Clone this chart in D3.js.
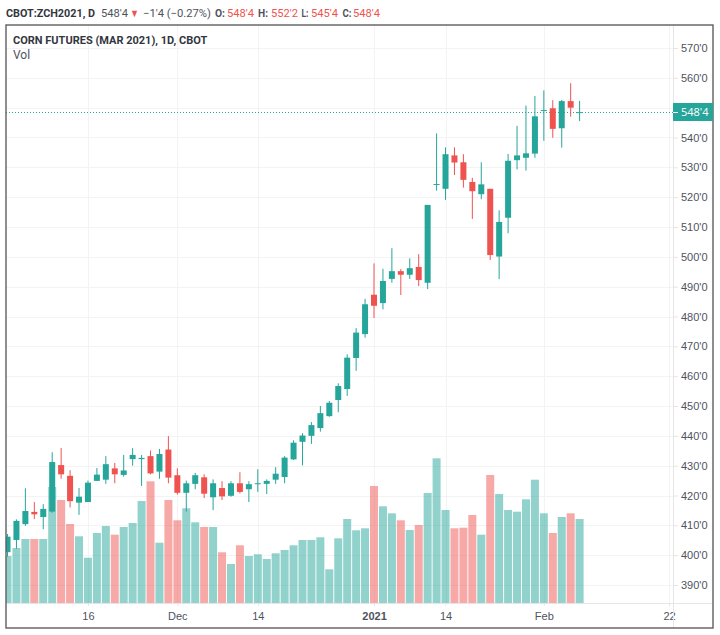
<!DOCTYPE html>
<html>
<head>
<meta charset="utf-8">
<script src="https://cdn.jsdelivr.net/npm/d3@7"></script>
<style>
  html, body { margin: 0; padding: 0; background: #fff; }
  svg { display: block; font-family: "Open Sans", "Noto Sans", sans-serif; }
  .tick text { fill: #50535e; font-size: 11px; }
  .label { font-family: Roboto, "Open Sans", sans-serif; }
</style>
</head>
<body>
<svg id="chart" width="720" height="635"></svg>
<script>
// trading days, plus the empty ones to the right of the last bar
const dates = [
  "2020-11-03","2020-11-04","2020-11-05","2020-11-06","2020-11-09","2020-11-10","2020-11-11","2020-11-12","2020-11-13",
  "2020-11-16","2020-11-17","2020-11-18","2020-11-19","2020-11-20","2020-11-23","2020-11-24","2020-11-25","2020-11-27","2020-11-30",
  "2020-12-01","2020-12-02","2020-12-03","2020-12-04","2020-12-07","2020-12-08","2020-12-09","2020-12-10","2020-12-11",
  "2020-12-14","2020-12-15","2020-12-16","2020-12-17","2020-12-18","2020-12-21","2020-12-22","2020-12-23","2020-12-24",
  "2020-12-28","2020-12-29","2020-12-30","2020-12-31",
  "2021-01-04","2021-01-05","2021-01-06","2021-01-07","2021-01-08","2021-01-11","2021-01-12","2021-01-13","2021-01-14","2021-01-15",
  "2021-01-19","2021-01-20","2021-01-21","2021-01-22","2021-01-25","2021-01-26","2021-01-27","2021-01-28","2021-01-29",
  "2021-02-01","2021-02-02","2021-02-03","2021-02-04","2021-02-05"
];
const futureDates = ["2021-02-08","2021-02-09","2021-02-10","2021-02-11","2021-02-12","2021-02-16","2021-02-17","2021-02-18","2021-02-19","2021-02-22"];

const opens = [
  401.0,405.1,410.4,414.5,412.8,414.6,430.2,426.6,417.6,417.8,424.9,425.3,429.1,426.9,432.2,432.2,433.2,428.0,435.4,426.8,
  420.9,423.9,426.1,419.4,422.5,419.9,424.1,422.1,423.8,423.9,425.3,426.2,432.1,438.0,440.0,442.6,446.6,452.0,455.7,466.1,
  474.1,487.3,484.5,492.6,495.2,494.0,496.6,491.3,524.1,522.8,534.0,531.7,525.1,521.0,522.8,500.1,513.1,532.4,533.2,534.6,
  549.0,549.8,543.1,552.2,548.5
];
const highs = [
  407.1,412.0,422.4,417.8,417.1,434.5,435.9,428.5,422.5,425.0,429.2,433.2,430.9,433.6,435.9,433.6,435.1,435.6,439.9,429.1,
  425.0,427.6,427.1,425.4,424.8,424.8,427.8,424.8,428.8,425.4,429.5,433.2,438.5,440.9,444.6,450.0,451.7,457.6,467.3,476.1,
  485.9,497.8,496.0,502.9,495.9,499.5,500.9,517.4,541.4,536.7,536.7,534.4,526.5,531.7,522.8,515.6,534.5,543.9,550.7,553.9,
  555.8,552.5,552.6,558.2,552.25
];
const lows = [
  399.5,402.1,409.8,412.1,408.7,414.2,425.6,416.0,413.5,417.8,424.9,423.9,424.1,426.3,430.0,423.2,427.1,425.6,424.1,420.3,
  414.6,422.1,419.1,415.1,418.5,419.6,420.7,417.8,421.2,420.5,423.9,424.1,431.9,430.1,437.3,441.4,446.4,447.9,453.4,461.8,
  472.9,479.5,482.4,491.3,487.2,492.6,490.2,489.2,522.2,519.1,527.4,523.2,512.7,519.3,498.9,492.5,507.9,529.3,528.9,533.2,
  538.9,539.9,536.6,547.0,545.5
];
const closes = [
  406.2,411.5,414.8,413.7,415.5,431.2,427.1,418.1,419.6,424.3,427.0,430.5,427.1,428.4,433.6,432.6,427.4,433.9,426.0,420.9,
  424.1,426.8,420.6,424.1,419.7,424.1,421.2,423.8,424.1,424.9,427.3,432.7,437.7,440.1,443.6,447.6,451.1,456.7,466.2,474.6,
  484.1,483.6,491.9,495.2,494.0,496.2,492.2,517.4,524.4,534.4,531.6,525.8,522.0,524.3,500.6,511.7,532.2,534.0,534.7,547.1,
  549.2,542.9,552.2,550.0,548.5
];
const volumes = [
  47,55,64,64,64,116,103,79,66.7,45.3,70,77,68.3,76,80,102,121.7,60.3,103,82.7,
  94.7,80.7,76,76,50.7,39,57.7,47,48.7,44,49.7,53,57.7,63,63,65.7,33.7,64.7,84,72.7,
  74.7,117,96.7,89.7,82.7,73,78,110,144.7,93,74.7,75.3,88,68.3,128,109,93,91.3,103.7,123.3,
  89.7,70,86,89.7,84
];
// true where the bar closed down, a doji keeps the colour of the previous close
const isDown = [
  0,0,0,1,0,0,1,1,0,0,0,0,1,0,0,0,1,0,1,1,
  0,0,1,0,1,0,1,0,0,0,0,0,0,0,0,0,0,0,0,0,
  0,1,0,0,1,0,1,0,0,0,1,1,1,0,1,0,0,0,0,0,
  0,1,0,1,0
];

const priceTicks = [390,400,410,420,430,440,450,460,470,480,490,500,510,520,530,540,550,560,570];
const shownPriceTicks = priceTicks.filter(p => p !== 550);
const dateTicks = ["2020-11-16","2020-12-01","2020-12-14","2021-01-04","2021-01-14","2021-02-01","2021-02-22"];
const dateLabels = ["16","Dec","14","2021","14","Feb","22"];

const lastPrice = 548.5;
// text, x, colour, weight, width of the text in the header row
const headerParts = [
  ["CBOT:ZCH2021, D", 6, "#333640", 700, 89],
  ["548'4", 101, "#50535e", 400, 27],
  ["\u25BC", 130, "#ef5350", 400, 9],
  ["\u22121'4 (\u22120.27%)", 143, "#50535e", 400, 68],
  ["O:", 215, "#50535e", 700, 10],
  ["548'4", 227, "#ef5350", 400, 27],
  ["H:", 258, "#50535e", 700, 10],
  ["552'2", 271, "#ef5350", 400, 27],
  ["L:", 301.5, "#50535e", 700, 7],
  ["545'4", 311, "#ef5350", 400, 27],
  ["C:", 342.5, "#50535e", 700, 9],
  ["548'4", 353, "#ef5350", 400, 27]
];

const green = "#26a69a", red = "#ef5350";
const pane = {left: 6, right: 673, top: 25, bottom: 603, outerRight: 713, outerBottom: 628};

const svg = d3.select("#chart");

const x = d3.scalePoint().domain(dates.concat(futureDates)).range([7.5, 669]);
const y = d3.scaleLinear().domain([390, 570]).range([585, 48]);
const vol = d3.scaleLinear().domain([0, 171]).range([pane.bottom, pane.bottom - 171]);

svg.append("clipPath").attr("id", "pane-clip").append("rect")
  .attr("x", pane.left).attr("y", pane.top)
  .attr("width", pane.right - pane.left).attr("height", pane.bottom - pane.top);

// grid
svg.append("g").attr("clip-path", "url(#pane-clip)")
  .selectAll("line.h").data(priceTicks).join("line")
  .attr("x1", pane.left).attr("x2", pane.right)
  .attr("y1", d => Math.round(y(d)) + 0.5).attr("y2", d => Math.round(y(d)) + 0.5)
  .attr("stroke", "#f3f3f3");
svg.append("g").attr("clip-path", "url(#pane-clip)")
  .selectAll("line.v").data(dateTicks).join("line")
  .attr("x1", d => Math.round(x(d)) + 0.5).attr("x2", d => Math.round(x(d)) + 0.5)
  .attr("y1", pane.top).attr("y2", pane.bottom)
  .attr("stroke", "#f3f3f3");

const plot = svg.append("g").attr("clip-path", "url(#pane-clip)");

// volume first, the candles sit on top of it
plot.append("g").selectAll("rect").data(dates).join("rect")
  .attr("x", d => x(d) - 4)
  .attr("width", 8)
  .attr("y", (d, i) => vol(volumes[i]))
  .attr("height", (d, i) => vol(0) - vol(volumes[i]))
  .attr("fill", (d, i) => isDown[i] ? red : green)
  .attr("opacity", 0.5);

// last price line
plot.append("line")
  .attr("x1", pane.left).attr("x2", pane.right)
  .attr("y1", Math.round(y(lastPrice)) + 0.5).attr("y2", Math.round(y(lastPrice)) + 0.5)
  .attr("stroke", green).attr("stroke-dasharray", "1 2");

const candles = plot.append("g").selectAll("g").data(dates).join("g");
candles.append("line")
  .attr("x1", d => x(d)).attr("x2", d => x(d))
  .attr("y1", (d, i) => y(highs[i]))
  .attr("y2", (d, i) => y(lows[i]))
  .attr("stroke", (d, i) => isDown[i] ? red : green)
  .attr("stroke-width", 1);
candles.append("rect")
  .attr("x", d => x(d) - 3)
  .attr("width", 6)
  .attr("y", (d, i) => y(Math.max(opens[i], closes[i])))
  .attr("height", (d, i) => Math.max(1, Math.abs(y(opens[i]) - y(closes[i]))))
  .attr("fill", (d, i) => isDown[i] ? red : green);

// axes
const yAxis = d3.axisRight(y).tickValues(shownPriceTicks).tickSize(5).tickPadding(3)
  .tickFormat(p => p + "'0");
svg.append("g").attr("transform", `translate(${pane.right},0)`).call(yAxis)
  .call(g => g.select(".domain").remove())
  .call(g => g.selectAll(".tick line").attr("stroke", "#e6e6e6"));

const xAxis = d3.axisBottom(x).tickValues(dateTicks).tickSize(3).tickPadding(6)
  .tickFormat(d => dateLabels[dateTicks.indexOf(d)]);
svg.append("g").attr("transform", `translate(0,${pane.bottom})`).call(xAxis)
  .call(g => g.select(".domain").remove())
  .call(g => g.selectAll(".tick line").attr("stroke", "#e6e6e6"))
  .call(g => g.selectAll(".tick text").filter(d => d === "2021-01-04").attr("font-weight", 600));

// pane separators and outer border
svg.append("line").attr("x1", pane.right + 0.5).attr("x2", pane.right + 0.5)
  .attr("y1", pane.top).attr("y2", pane.outerBottom).attr("stroke", "#e6e6e6");
svg.append("line").attr("x1", pane.left).attr("x2", pane.outerRight)
  .attr("y1", pane.bottom + 0.5).attr("y2", pane.bottom + 0.5).attr("stroke", "#e6e6e6");
svg.append("rect")
  .attr("x", pane.left).attr("y", pane.top)
  .attr("width", pane.outerRight - pane.left).attr("height", pane.outerBottom - pane.top)
  .attr("fill", "none").attr("stroke", "#5f5f5f").attr("stroke-width", 1.4);

// last price tag
const tagY = Math.round(y(lastPrice));
svg.append("rect").attr("x", pane.right).attr("y", tagY - 9)
  .attr("width", pane.outerRight - pane.right).attr("height", 18).attr("fill", green);
svg.append("line").attr("x1", pane.right).attr("x2", pane.right + 5)
  .attr("y1", tagY + 0.5).attr("y2", tagY + 0.5).attr("stroke", "#fff");
svg.append("text").attr("x", pane.right + 8).attr("y", tagY + 4)
  .attr("fill", "#fff").attr("font-size", 11).text("548'4");

// header and pane titles
svg.append("g").attr("class", "label").selectAll("text").data(headerParts).join("text")
  .attr("x", d => d[1]).attr("y", 17)
  .attr("font-size", 11)
  .attr("fill", d => d[2])
  .attr("font-weight", d => d[3])
  .attr("textLength", d => d[4])
  .attr("lengthAdjust", "spacingAndGlyphs")
  .text(d => d[0]);
svg.append("text").attr("class", "label").attr("x", 13).attr("y", 44).attr("font-size", 11).attr("font-weight", 700)
  .attr("fill", "#333640").text("CORN FUTURES (MAR 2021), 1D, CBOT");
svg.append("text").attr("class", "label").attr("x", 13).attr("y", 59).attr("font-size", 12)
  .attr("fill", "#50535e").text("Vol");
</script>
</body>
</html>
